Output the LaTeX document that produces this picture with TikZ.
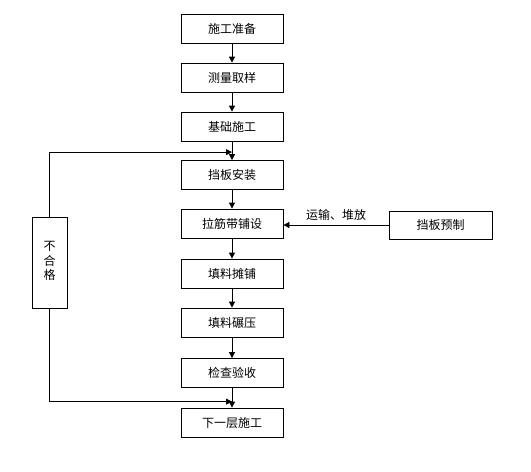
\documentclass[tikz,border=0pt]{standalone}
\usepackage{fontspec}
\setmainfont{Noto Sans CJK SC}
\usetikzlibrary{arrows.meta}
\begin{document}
\begin{tikzpicture}[x=1pt,y=-1pt,
  every node/.style={font=\fontsize{12}{15}\selectfont},
  stepbox/.style={draw,line width=0.8pt,minimum width=102pt,minimum height=29pt,inner sep=0pt},
  arr/.style={line width=0.8pt,-{Triangle[length=6pt,width=6pt]}}]
\useasboundingbox (0,0) rectangle (531,472);
\node[stepbox] (b1) at (232,28.5) {施工准备};
\node[stepbox] (b2) at (232,77.5) {测量取样};
\node[stepbox] (b3) at (232,126.5) {基础施工};
\node[stepbox] (b4) at (232,175) {挡板安装};
\node[stepbox] (b5) at (232,223.5) {拉筋带铺设};
\node[stepbox] (b6) at (232,273.5) {填料摊铺};
\node[stepbox] (b7) at (232,322.5) {填料碾压};
\node[stepbox] (b8) at (232,373) {检查验收};
\node[stepbox] (b9) at (232,422.5) {下一层施工};
\node[stepbox,minimum width=103pt,minimum height=28pt] (pre) at (440.5,225) {挡板预制};
\node[draw,line width=0.8pt,minimum width=35pt,minimum height=91pt,inner sep=0pt] (nq) at (49.5,262.5) {\raisebox{7pt}{\renewcommand\arraystretch{0.95}\begin{tabular}{@{}c@{}}不\\合\\格\end{tabular}}};
\coordinate (j1) at ([yshift=8pt]b4.north);
\coordinate (j2) at ([yshift=6pt]b9.north);
\draw[arr] (b1) -- (b2);
\draw[arr] (b2) -- (b3);
\draw[arr] (b3) -- (b4);
\draw[arr] (b4) -- (b5);
\draw[arr] (b5) -- (b6);
\draw[arr] (b6) -- (b7);
\draw[arr] (b7) -- (b8);
\draw[arr] (b8) -- (b9);
\draw[arr] (pre.west) -- node[above=1pt] {运输、堆放} (pre.west -| b5.east);
\draw[arr] (nq.north) |- (j1);
\draw[arr] (nq.south) |- (j2);
\end{tikzpicture}
\end{document}
